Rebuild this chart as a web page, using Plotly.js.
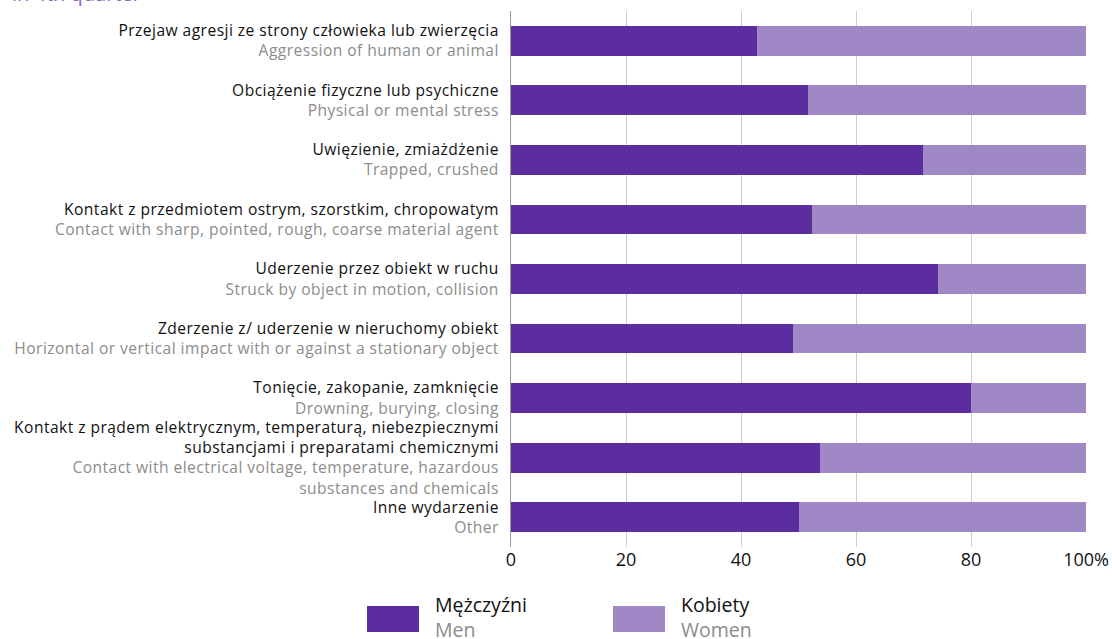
<!DOCTYPE html>
<html>
<head>
<meta charset="utf-8">
<script src="https://cdn.plot.ly/plotly-3.0.1.min.js"></script>
<style>
  html, body { margin: 0; padding: 0; background: #fff; }
  #chart { width: 1112px; height: 639px; }
  /* category labels in the original are set a touch wider */
  #chart .ytick text { letter-spacing: 0.45px; }
</style>
</head>
<body>
<div id="chart"></div>
<script>
// categories, top to bottom
var labelsPl = [
    'Przejaw agresji ze strony człowieka lub zwierzęcia',
    'Obciążenie fizyczne lub psychiczne',
    'Uwięzienie, zmiażdżenie',
    'Kontakt z przedmiotem ostrym, szorstkim, chropowatym',
    'Uderzenie przez obiekt w ruchu',
    'Zderzenie z/ uderzenie w nieruchomy obiekt',
    'Tonięcie, zakopanie, zamknięcie',
    'Kontakt z prądem elektrycznym, temperaturą, niebezpiecznymi<br>substancjami i preparatami chemicznymi',
    'Inne wydarzenie'
];
var labelsEn = [
    'Aggression of human or animal',
    'Physical or mental stress',
    'Trapped, crushed',
    'Contact with sharp, pointed, rough, coarse material agent',
    'Struck by object in motion, collision',
    'Horizontal or vertical impact with or against a stationary object',
    'Drowning, burying, closing',
    'Contact with electrical voltage, temperature, hazardous<br>substances and chemicals',
    'Other'
];
var men = [42.8, 51.7, 71.7, 52.4, 74.2, 49.0, 80.0, 53.7, 50.0];
var women = [57.2, 48.3, 28.3, 47.6, 25.8, 51.0, 20.0, 46.3, 50.0];
var seriesPl = ['Mężczyźni', 'Kobiety'];
var seriesEn = ['Men', 'Women'];
var tickVals = [0, 20, 40, 60, 80, 100];
var tickText = ['0', '20', '40', '60', '80', '100%'];

var colorMen = '#5c2d9f';
var colorWomen = '#a087c6';
var grey = '#8c8c8c';
var font = 'Open Sans, sans-serif';

var cats = labelsPl.map(function (pl, i) {
    var en = labelsEn[i].replace('<br>', '</span><br><span style="color:' + grey + '">');
    return pl + '<br><span style="color:' + grey + '">' + en + '</span>';
});

var traces = [{
    type: 'bar',
    orientation: 'h',
    y: cats,
    x: men,
    name: seriesPl[0],
    marker: { color: colorMen, line: { width: 0 } },
    hoverinfo: 'x'
}, {
    type: 'bar',
    orientation: 'h',
    y: cats,
    x: women,
    name: seriesPl[1],
    marker: { color: colorWomen, line: { width: 0 } },
    hoverinfo: 'x'
}];

// legend drawn by hand: big swatches + two-line labels
var legX = [-0.2504, 0.1774];
var shapes = [], annos = [];
[colorMen, colorWomen].forEach(function (c, i) {
    shapes.push({
        type: 'rect', xref: 'paper', yref: 'paper',
        x0: legX[i], x1: legX[i] + 0.0904, y0: -0.1586, y1: -0.110,
        fillcolor: c, line: { width: 0 }
    });
    annos.push({
        xref: 'paper', yref: 'paper', x: legX[i] + 0.115, y: -0.079,
        xanchor: 'left', yanchor: 'top', align: 'left', showarrow: false,
        text: seriesPl[i] + '<br><span style="color:' + grey + '">' + seriesEn[i] + '</span>',
        font: { family: font, size: 19.5, color: '#111' }
    });
});
// page title sits above the crop, only its lower edge shows
annos.push({
    xref: 'paper', yref: 'paper', x: -0.872, y: 1.004,
    xanchor: 'left', yanchor: 'bottom', showarrow: false,
    text: 'in 4th quarter',
    font: { family: font, size: 20, color: '#8a62c9' }
});

Plotly.newPlot('chart', traces, {
    width: 1112,
    height: 639,
    margin: { l: 511, r: 26, t: 11, b: 92 },
    barmode: 'stack',
    bargap: 0.5,
    showlegend: false,
    paper_bgcolor: '#fff',
    plot_bgcolor: '#fff',
    font: { family: font, color: '#111' },
    xaxis: {
        range: [0, 100],
        tickvals: tickVals,
        ticktext: tickText,
        showgrid: true,
        gridcolor: '#cdcdcd',
        gridwidth: 1,
        zeroline: false,
        showline: false,
        ticks: '',
        tickfont: { family: font, size: 18, color: '#111' },
        fixedrange: true
    },
    yaxis: {
        autorange: 'reversed',
        showgrid: false,
        showline: true,
        linecolor: '#9a9a9a',
        linewidth: 1,
        ticks: '',
        ticklabelstandoff: 8,
        tickfont: { family: font, size: 15.6, color: '#111' },
        fixedrange: true
    },
    shapes: shapes,
    annotations: annos
}, { displayModeBar: false, staticPlot: true });
</script>
</body>
</html>
